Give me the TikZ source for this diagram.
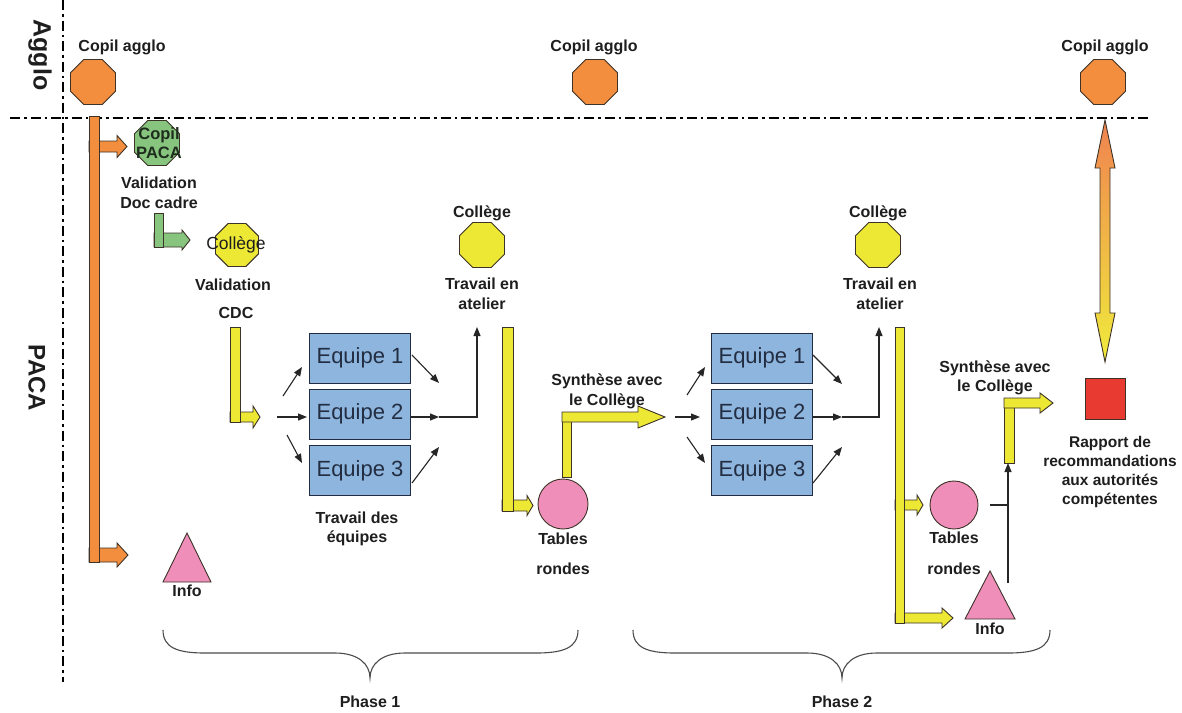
\documentclass[tikz,border=0pt]{standalone}
\usepackage{fontspec}
\setmainfont{Liberation Sans}
\usetikzlibrary{shapes.geometric,arrows.meta}
\definecolor{orng}{RGB}{242,142,62}
\definecolor{grn}{RGB}{135,196,125}
\definecolor{yel}{RGB}{236,232,52}
\definecolor{pnk}{RGB}{240,142,186}
\definecolor{blu}{RGB}{141,181,222}
\definecolor{redd}{RGB}{232,58,48}
\definecolor{txt}{RGB}{30,30,30}
\definecolor{edge}{RGB}{60,50,40}
\definecolor{navy}{RGB}{35,45,65}
\definecolor{topor}{RGB}{240,130,80}
\definecolor{botye}{RGB}{240,236,60}
\newcommand\harr[7]{%
  \filldraw[shp,fill=#7] (#1,#3-#4) -- (#2-#6,#3-#4) -- (#2-#6,#3-#5) -- (#2,#3)
    -- (#2-#6,#3+#5) -- (#2-#6,#3+#4) -- (#1,#3+#4) -- cycle;}
\begin{document}
\begin{tikzpicture}[x=1pt,y=-1pt,
  shp/.style={draw=edge,line width=0.9pt},
  oct/.style={regular polygon,regular polygon sides=8,minimum size=48.7pt,inner sep=0pt,draw=edge,line width=0.9pt},
  lab/.style={font=\fontsize{16}{19.5}\selectfont\bfseries,align=center,inner sep=0pt,text=txt},
  eq/.style={draw=navy,line width=1pt,fill=blu,minimum width=101pt,minimum height=50pt,inner sep=0pt,font=\fontsize{22}{22}\selectfont,text=navy},
  conn/.style={draw=black!85,line width=1.1pt,-{Triangle[length=9pt,width=7pt]}},
  plain/.style={draw=black!85,line width=1.1pt},
  axis/.style={line width=2.6pt,dash pattern=on 10pt off 4pt on 2.5pt off 4pt},
  brace/.style={draw=black!70,line width=1.1pt}]
\fill[white] (0,0) rectangle (1182,712);
\useasboundingbox (0,0) rectangle (1182,712);

% axes
\draw[axis] (63,0) -- (63,682);
\draw[axis] (10,118) -- (1150,118);
\node[rotate=-90,font=\fontsize{25}{25}\selectfont\bfseries,text=txt,inner sep=0pt] (agglo) at (40,55) {Agglo};
\node[rotate=-90,font=\fontsize{24}{24}\selectfont\bfseries,text=txt,inner sep=0pt] (paca) at (37,378) {PACA};

% big bent arrows
\harr{89}{127}{146.5}{5.5}{11}{10}{orng}
\harr{89}{128}{555}{7}{12}{11}{orng}
\filldraw[shp,fill=orng] (89,116) rectangle (99,562);

\harr{154}{190}{240}{7}{10}{8}{grn}
\filldraw[shp,fill=grn] (154,213) rectangle (163,247);

\harr{230}{260}{417}{5}{11}{7}{yel}
\filldraw[shp,fill=yel] (230,327) rectangle (240,422);

\harr{502}{533}{505.5}{5.5}{10}{6}{yel}
\filldraw[shp,fill=yel] (502,327) rectangle (513,511);

\filldraw[shp,fill=yel] (562,412) rectangle (571,477);
\harr{562}{665}{417}{5}{11}{27}{yel}

\harr{895}{923}{505}{5}{10}{6}{yel}
\harr{895}{953}{618}{5}{10}{11}{yel}
\filldraw[shp,fill=yel] (895,327) rectangle (904,623);

\filldraw[shp,fill=yel] (1004,398) rectangle (1014,463);
\harr{1004}{1053}{403}{5}{10}{13}{yel}

% double arrow
\shade[top color=topor,bottom color=botye] (1105,120) -- (1115,168) -- (1110,168) -- (1110,313) -- (1115,313)
  -- (1105,362) -- (1095,313) -- (1100,313) -- (1100,168) -- (1095,168) -- cycle;
\draw[shp] (1105,120) -- (1115,168) -- (1110,168) -- (1110,313) -- (1115,313)
  -- (1105,362) -- (1095,313) -- (1100,313) -- (1100,168) -- (1095,168) -- cycle;

% octagons
\node[oct,fill=orng] (ca1) at (93,82) {};
\node[oct,fill=orng] (ca2) at (595,82) {};
\node[oct,fill=orng] (ca3) at (1103,82) {};
\node[oct,fill=grn] (cp) at (157,143) {};
\node[oct,fill=yel,minimum size=46.5pt] (co1) at (237,245) {};
\node[oct,fill=yel] (co2) at (482,245) {};
\node[oct,fill=yel] (co3) at (878,245) {};

% labels
\node[lab] (tca1) at (122,47) {Copil agglo};
\node[lab] (tca2) at (594,47) {Copil agglo};
\node[lab] (tca3) at (1105,47) {Copil agglo};
\node[lab,text={rgb,255:red,30;green,45;blue,30},font=\fontsize{16.5}{19.5}\selectfont\bfseries] (tcp) at (159,143) {Copil\\PACA};
\node[lab] (tvd) at (159,193) {Validation\\Doc cadre};
\node[font=\fontsize{17.5}{17.5}\selectfont,text=txt,inner sep=0pt] (tco1) at (236,245) {Collège};
\node[lab] (tval) at (233,285) {Validation};
\node[lab] (tcdc) at (236,313) {CDC};
\node[lab] (tco2) at (482,213) {Collège};
\node[lab] (tta1) at (482,294) {Travail en\\atelier};
\node[lab] (tco3) at (878,213) {Collège};
\node[lab] (tta2) at (880,294) {Travail en\\atelier};
\node[lab] (ttd) at (357,529) {Travail des\\équipes};
\node[lab] (tsy1) at (607,391.5) {Synthèse avec\\le Collège};
\node[lab] (tsy2) at (995,378) {Synthèse avec\\le Collège};

% equipes
\node[eq] (e1) at (360,358) {Equipe 1};
\node[eq] (e2) at (360,414) {Equipe 2};
\node[eq] (e3) at (360,470.5) {Equipe 3};
\node[eq] (f1) at (762,358) {Equipe 1};
\node[eq] (f2) at (762,414) {Equipe 2};
\node[eq] (f3) at (762,470.5) {Equipe 3};

% phase 1 connectors
\coordinate (a1s) at (283,396); \coordinate (a1e) at (302,367);
\coordinate (a2s) at (277,417); \coordinate (a2e) at (307,417);
\coordinate (a3s) at (287,435); \coordinate (a3e) at (302,463);
\draw[conn] (a1s) -- (a1e);
\draw[conn] (a2s) -- (a2e);
\draw[conn] (a3s) -- (a3e);
\coordinate (o1s) at (412,355); \coordinate (o1e) at (439,383);
\coordinate (o2m) at (439,417); \coordinate (o2c) at (477,417); \coordinate (o2e) at (477,327);
\coordinate (o3s) at (412,483); \coordinate (o3e) at (439,447);
\draw[conn] (o1s) -- (o1e);
\draw[conn] (e2.east |- o2m) -- (o2m);
\draw[conn] (o2m) -- (o2c) -- (o2e);
\draw[conn] (o3s) -- (o3e);

% phase 2 connectors
\coordinate (b1s) at (687,395); \coordinate (b1e) at (705,367);
\coordinate (b2s) at (675,417); \coordinate (b2e) at (700,417);
\coordinate (b3s) at (687,437); \coordinate (b3e) at (705,463);
\draw[conn] (b1s) -- (b1e);
\draw[conn] (b2s) -- (b2e);
\draw[conn] (b3s) -- (b3e);
\coordinate (p1s) at (813,355); \coordinate (p1e) at (842,384);
\coordinate (p2m) at (842,417); \coordinate (p2c) at (879,417); \coordinate (p2e) at (879,327);
\coordinate (p3s) at (813,483); \coordinate (p3e) at (842,447);
\draw[conn] (p1s) -- (p1e);
\draw[conn] (f2.east |- p2m) -- (p2m);
\draw[conn] (p2m) -- (p2c) -- (p2e);
\draw[conn] (p3s) -- (p3e);

% tables rondes
\node[circle,draw=edge,line width=0.9pt,fill=pnk,minimum size=50pt,inner sep=0pt] (tr1) at (563,504) {};
\node[lab] (ttr1) at (563,539) {Tables};
\node[lab] (ttr1b) at (563,569) {rondes};
\node[circle,draw=edge,line width=0.9pt,fill=pnk,minimum size=48pt,inner sep=0pt] (tr2) at (954,505) {};
\node[lab] (ttr2) at (954,538) {Tables};
\node[lab] (ttr2b) at (954,569) {rondes};

% info triangles
\filldraw[shp,fill=pnk] (187,533) -- (211,582) -- (163,582) -- cycle;
\node[lab] (tin1) at (187,591) {Info};
\filldraw[shp,fill=pnk] (990,571) -- (1015,619) -- (965,619) -- cycle;
\node[lab] (tin2) at (990,629) {Info};

% phase 2 synthesis connector
\coordinate (s1) at (990,505); \coordinate (s2) at (1008,505);
\coordinate (s3) at (1008,583); \coordinate (s4) at (1008,463);
\draw[plain] (s1) -- (s2);
\draw[conn] (s3) -- (s4);

% rapport
\node[shp,fill=redd,minimum width=40pt,minimum height=41pt,inner sep=0pt] (rap) at (1105,398.5) {};
\node[lab,font=\fontsize{15.5}{19}\selectfont\bfseries] (trap) at (1110,472) {Rapport de\\recommandations\\aux autorités\\compétentes};

% braces
\draw[brace] (163,630) .. controls (163,648) and (178,653) .. (205,653) -- (335,653)
  .. controls (358,653) and (370,664) .. (370,678) .. controls (370,664) and (382,653) .. (405,653)
  -- (536,653) .. controls (563,653) and (578,648) .. (578,630);
\draw[brace] (633,630) .. controls (633,648) and (648,653) .. (675,653) -- (807,653)
  .. controls (830,653) and (842,664) .. (842,678) .. controls (842,664) and (854,653) .. (877,653)
  -- (1008,653) .. controls (1035,653) and (1050,648) .. (1050,630);
\node[lab] (ph1) at (370,702) {Phase 1};
\node[lab] (ph2) at (842,702) {Phase 2};
\end{tikzpicture}
\end{document}
